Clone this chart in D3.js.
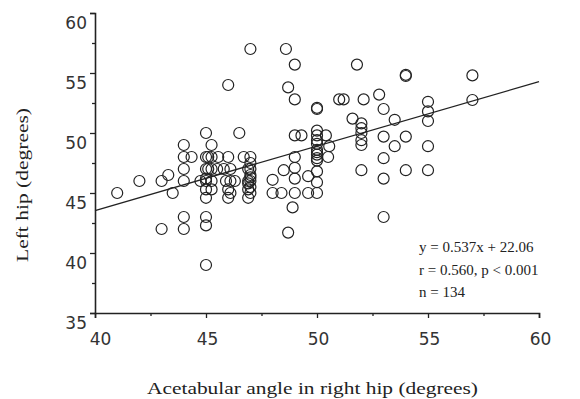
<!DOCTYPE html>
<html><head><meta charset="utf-8">
<script src="https://cdn.jsdelivr.net/npm/d3@7"></script>
<style>body{margin:0;background:#fff}</style>
</head><body>
<svg id="chart" width="580" height="399"></svg>
<script>
const xTicks = [40, 45, 50, 55, 60];
const yTicks = [35, 40, 45, 50, 55, 60];
const xMinor = [42.5, 47.5, 52.5, 57.5];
const yMinor = [37.5, 42.5, 47.5, 52.5, 57.5];
const xValues = [41,42,43,43.3,43.5,43,44,44,45,45,45,
  44,44,44.35,44,44,
  45,45.25,45,45.25,45.55,46,45,45.25,45.5,45.8,46.1,44.75,45,45.25,45.9,46.1,46.3,45,45.25,46,46.1,45,46,46,46.5,46.7,
  47,47,47,46.9,47,46.9,47,47,46.9,47,46.9,
  48.6,49,48.7,49,49,49.3,49,48.5,49,49,48,49.6,48,48.4,49,49.6,48.9,48.7,
  50,50,50,50,50.4,50,50,50,50,50.55,50.5,50,50,50,
  51.8,51,51.2,52.1,51.6,52,52,52,52,52,52,
  52.8,53,53.5,53,53.5,53,53,53,
  54,54,54,54,55,55,55,55,55,57,57,
  47,47,46.9,50,50,50,45.1,45.1,45];
const yValues = [45,46,46,46.5,45,42,43,42,43,42.3,39,
  49,48,48,47,46,
  50,49,48,48,48,48,47,47,47,47,47,46,46,46,46,46,46,45.3,45.3,45.3,45,44.6,44.6,54,50,48,
  57,48,47.5,47,47,46,46.3,46,45.3,45,44.6,
  57,55.7,53.8,52.8,49.8,49.8,48,46.9,47.1,46.2,46.1,46.4,45,45,45,45,43.8,41.7,
  52,52.1,50.2,49.8,49.8,49.1,48.6,48.2,47.7,48.9,48,46.8,45.9,45,
  55.7,52.8,52.8,52.8,51.2,50.8,50.4,50,49.4,49,46.9,
  53.2,52,51.1,49.7,48.9,47.9,46.2,43,
  54.75,54.85,49.7,46.9,52.6,51.8,51,48.9,46.9,54.8,52.75,
  46.5,45.5,45.8,49.4,48.4,47.9,48,47,46.2];
const slope = 0.537, intercept = 22.06;
const annot = ["y = 0.537x + 22.06", "r = 0.560, p < 0.001", "n = 134"];
const xTitle = "Acetabular angle in right hip (degrees)";
const yTitle = "Left hip (degrees)";

const svg = d3.select("#chart");
const x = d3.scaleLinear().domain([40, 60]).range([95, 539]);
const y = d3.scaleLinear().domain([35, 60]).range([313, 13]);
const ink = "#222";

// regression line
svg.append("line")
  .attr("x1", x(40)).attr("y1", y(slope*40+intercept))
  .attr("x2", x(60)).attr("y2", y(slope*60+intercept))
  .attr("stroke", ink).attr("stroke-width", 1.3);

// points
svg.append("g").selectAll("circle").data(xValues.map((v,i)=>[v,yValues[i]]))
  .join("circle")
  .attr("cx", d=>x(d[0])).attr("cy", d=>y(d[1])).attr("r", 5.5)
  .attr("fill", "none").attr("stroke", ink).attr("stroke-width", 1.2);

// axes
const fontTick = "'DejaVu Sans', sans-serif";
const xAxis = svg.append("g").attr("transform", `translate(0,${y(35)})`)
  .call(d3.axisBottom(x).tickValues(xTicks).tickSize(5).tickPadding(15).tickFormat(d3.format("d")));
svg.append("g").attr("transform", `translate(0,${y(35)})`)
  .call(d3.axisBottom(x).tickValues(xMinor).tickSize(3).tickFormat(""))
  .call(g=>g.select(".domain").remove());
const yAxis = svg.append("g").attr("transform", `translate(${x(40)},0)`)
  .call(d3.axisLeft(y).tickValues(yTicks).tickSize(5).tickPadding(3).tickFormat(d3.format("d")));
svg.append("g").attr("transform", `translate(${x(40)},0)`)
  .call(d3.axisLeft(y).tickValues(yMinor).tickSize(3).tickFormat(""))
  .call(g=>g.select(".domain").remove());
svg.selectAll(".domain").attr("stroke", ink).attr("stroke-width", 1.6);
svg.selectAll(".tick line").attr("stroke", ink).attr("stroke-width", 1.3);
svg.selectAll(".tick text").attr("font-family", fontTick).attr("font-size", 17).attr("fill", "#333");
yAxis.selectAll(".tick text").attr("dy", "0.9em");
xAxis.selectAll(".tick text").attr("dx", d => d === 40 ? 5 : 1);

// titles (horizontally stretched like the reference)
svg.append("text").attr("x", 147).attr("y", 394)
  .attr("textLength", 331).attr("lengthAdjust", "spacingAndGlyphs")
  .attr("font-family", "'Liberation Serif', serif").attr("font-size", 17).attr("fill", ink)
  .text(xTitle);
svg.append("text").attr("transform", "translate(28,262) rotate(-90)")
  .attr("textLength", 154).attr("lengthAdjust", "spacingAndGlyphs")
  .attr("font-family", "'Liberation Serif', serif").attr("font-size", 17).attr("fill", ink)
  .text(yTitle);

// annotation
svg.append("g").selectAll("text").data(annot).join("text")
  .attr("x", 419).attr("y", (d,i)=>252 + i*22.5)
  .attr("font-family", "'Liberation Serif', serif").attr("font-size", 15).attr("fill", ink)
  .text(d=>d);
</script>
</body></html>
